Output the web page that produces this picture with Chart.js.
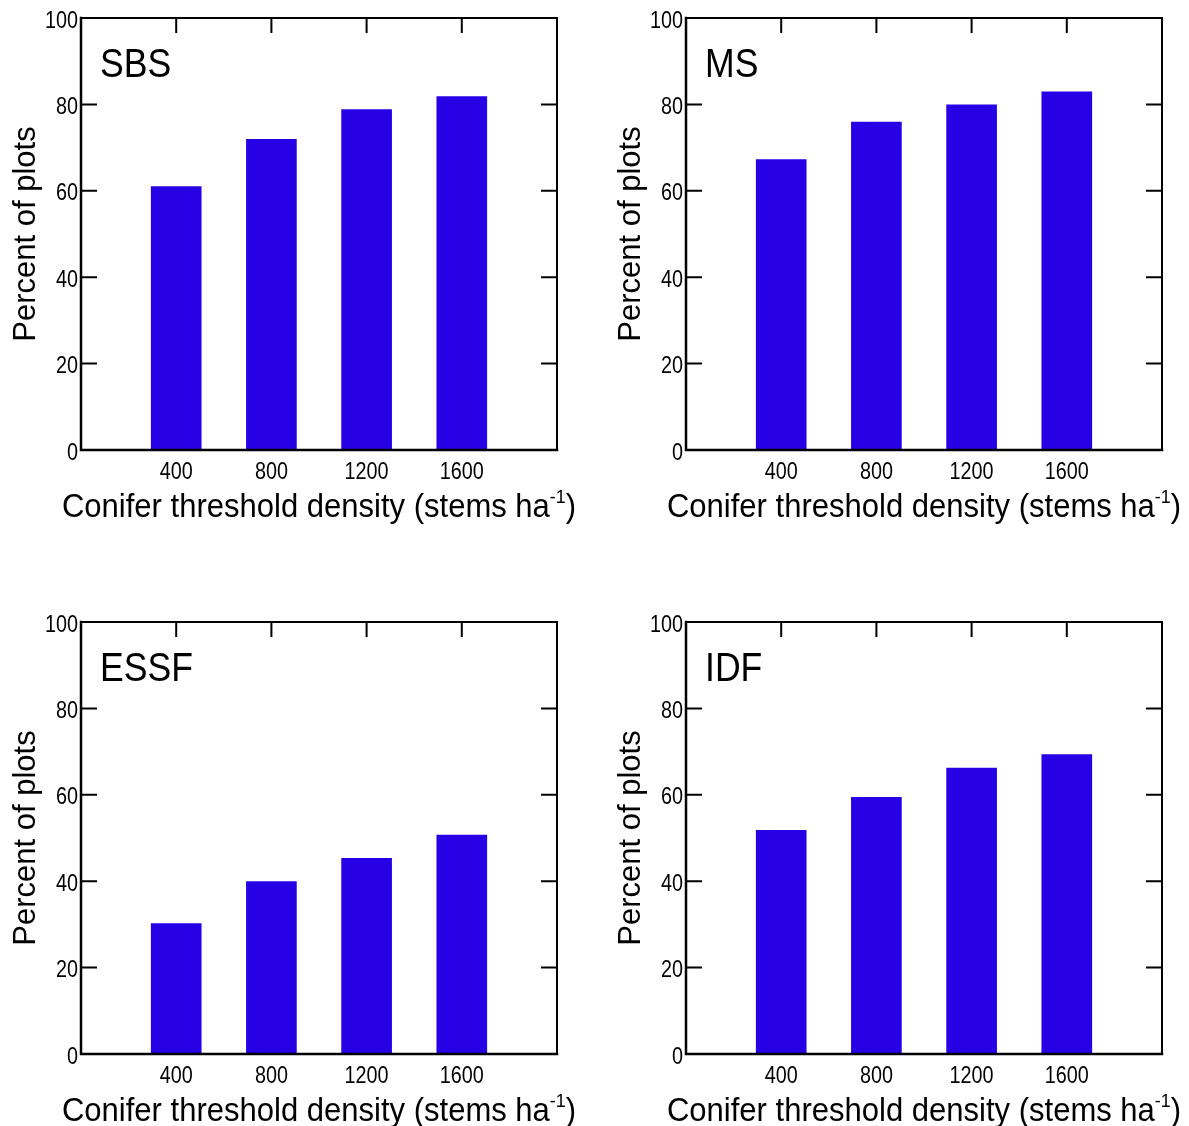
<!DOCTYPE html>
<html>
<head>
<meta charset="utf-8">
<script src="https://cdn.jsdelivr.net/npm/chart.js@4/dist/chart.umd.min.js"></script>
<style>
  html, body { margin: 0; padding: 0; background: #fff; overflow: hidden; }
  .panel { position: absolute; width: 595px; height: 524px; }
</style>
</head>
<body>
<div class="panel" style="left:0;top:0"><canvas id="sbs"></canvas></div>
<div class="panel" style="left:605px;top:0"><canvas id="ms"></canvas></div>
<div class="panel" style="left:0;top:604px"><canvas id="essf"></canvas></div>
<div class="panel" style="left:605px;top:604px"><canvas id="idf"></canvas></div>

<script>
const densities = [400, 800, 1200, 1600]
const sbsValues = [61.0, 71.9, 78.8, 81.8]
const msValues = [67.2, 75.9, 79.9, 82.9]
const essfValues = [30.2, 39.9, 45.3, 50.7]
const idfValues = [51.8, 59.4, 66.2, 69.3]
const yTicks = [0, 20, 40, 60, 80, 100]

const xTitle = 'Conifer threshold density (stems ha'
const xTitleSup = '-1'
const yTitle = 'Percent of plots'

const FONT = '"Liberation Sans", Arial, sans-serif'
const BAR_COLOR = '#2800e6'

// text drawn a bit narrower, like Arial Narrow
const squeezed = (ctx, text, x, y, align, sx) => {
  ctx.save()
  ctx.translate(x, y)
  ctx.scale(sx, 1)
  ctx.textAlign = align
  ctx.fillText(text, 0, 0)
  ctx.restore()
}

// box round the plot with inward ticks, tick labels, zone name and x title
const framePlugin = {
  id: 'frame',
  afterDatasetsDraw(chart, args, opts) {
    const {ctx, chartArea: a, scales} = chart
    const tick = 15
    ctx.save()
    ctx.strokeStyle = '#000'
    ctx.lineCap = 'square'

    ctx.lineWidth = 2
    ctx.beginPath()
    ctx.moveTo(a.left, a.top); ctx.lineTo(a.right, a.top); ctx.lineTo(a.right, a.bottom)
    yTicks.forEach(v => {
      const y = scales.y.getPixelForValue(v)
      ctx.moveTo(a.left, y); ctx.lineTo(a.left + tick, y)
      ctx.moveTo(a.right, y); ctx.lineTo(a.right - tick, y)
    })
    densities.forEach(v => {
      const x = scales.x.getPixelForValue(v)
      ctx.moveTo(x, a.top); ctx.lineTo(x, a.top + tick - 1)
    })
    ctx.stroke()

    ctx.lineWidth = 2.5
    ctx.beginPath()
    ctx.moveTo(a.left, a.top); ctx.lineTo(a.left, a.bottom); ctx.lineTo(a.right, a.bottom)
    ctx.stroke()

    ctx.fillStyle = '#000'
    ctx.textBaseline = 'alphabetic'

    ctx.font = '23px ' + FONT
    yTicks.forEach(v => {
      squeezed(ctx, String(v), a.left - 3, scales.y.getPixelForValue(v) + 9.5, 'right', 0.86)
    })
    densities.forEach(v => {
      squeezed(ctx, String(v), scales.x.getPixelForValue(v), a.bottom + 29, 'center', 0.86)
    })

    ctx.font = '40px ' + FONT
    squeezed(ctx, opts.zone, a.left + 19, a.top + 59, 'left', 0.89)

    // x axis title, "-1" raised as a superscript
    const sx = 0.94
    const big = '33px ' + FONT
    const small = '19px ' + FONT
    ctx.font = big
    const w1 = ctx.measureText(xTitle).width * sx
    const w3 = ctx.measureText(')').width * sx
    ctx.font = small
    const w2 = ctx.measureText(xTitleSup).width * sx
    const base = a.bottom + 67
    let x = (a.left + a.right) / 2 - (w1 + w2 + w3) / 2
    ctx.font = big
    squeezed(ctx, xTitle, x, base, 'left', sx)
    x += w1
    ctx.font = small
    squeezed(ctx, xTitleSup, x, base - 14, 'left', sx)
    x += w2
    ctx.font = big
    squeezed(ctx, ')', x, base, 'left', sx)
    ctx.restore()
  }
}

const makeChart = (id, zone, values) => {
  const ctx = document.getElementById(id).getContext('2d')
  return new Chart(ctx, {
    type: 'bar',
    data: {
      datasets: [{
        data: densities.map((d, i) => ({x: d, y: values[i]})),
        backgroundColor: BAR_COLOR,
        borderWidth: 0,
        barThickness: 50,
      }]
    },
    plugins: [framePlugin],
    options: {
      responsive: true,
      maintainAspectRatio: false,
      animation: false,
      layout: { padding: { top: 18, right: 38, left: 0, bottom: 0 } },
      scales: {
        x: {
          type: 'linear',
          min: 0,
          max: 2000,
          offset: false,
          afterBuildTicks: scale => { scale.ticks = densities.map(v => ({value: v})) },
          afterFit: scale => { scale.height = 74 },
          grid: { display: false, drawTicks: false, offset: false },
          border: { display: false },
          ticks: { display: false },
        },
        y: {
          min: 0,
          max: 100,
          afterBuildTicks: scale => { scale.ticks = yTicks.map(v => ({value: v})) },
          afterFit: scale => { scale.width = 81 },
          grid: { display: false, drawTicks: false },
          border: { display: false },
          ticks: { display: false },
          title: {
            display: true,
            text: yTitle,
            color: '#000',
            padding: { top: 8, bottom: 0 },
            font: { family: FONT, size: 31 },
          },
        },
      },
      plugins: {
        legend: { display: false },
        tooltip: { enabled: false },
        frame: { zone: zone },
      },
    },
  })
}

makeChart('sbs', 'SBS', sbsValues)
makeChart('ms', 'MS', msValues)
makeChart('essf', 'ESSF', essfValues)
makeChart('idf', 'IDF', idfValues)
</script>
</body>
</html>
